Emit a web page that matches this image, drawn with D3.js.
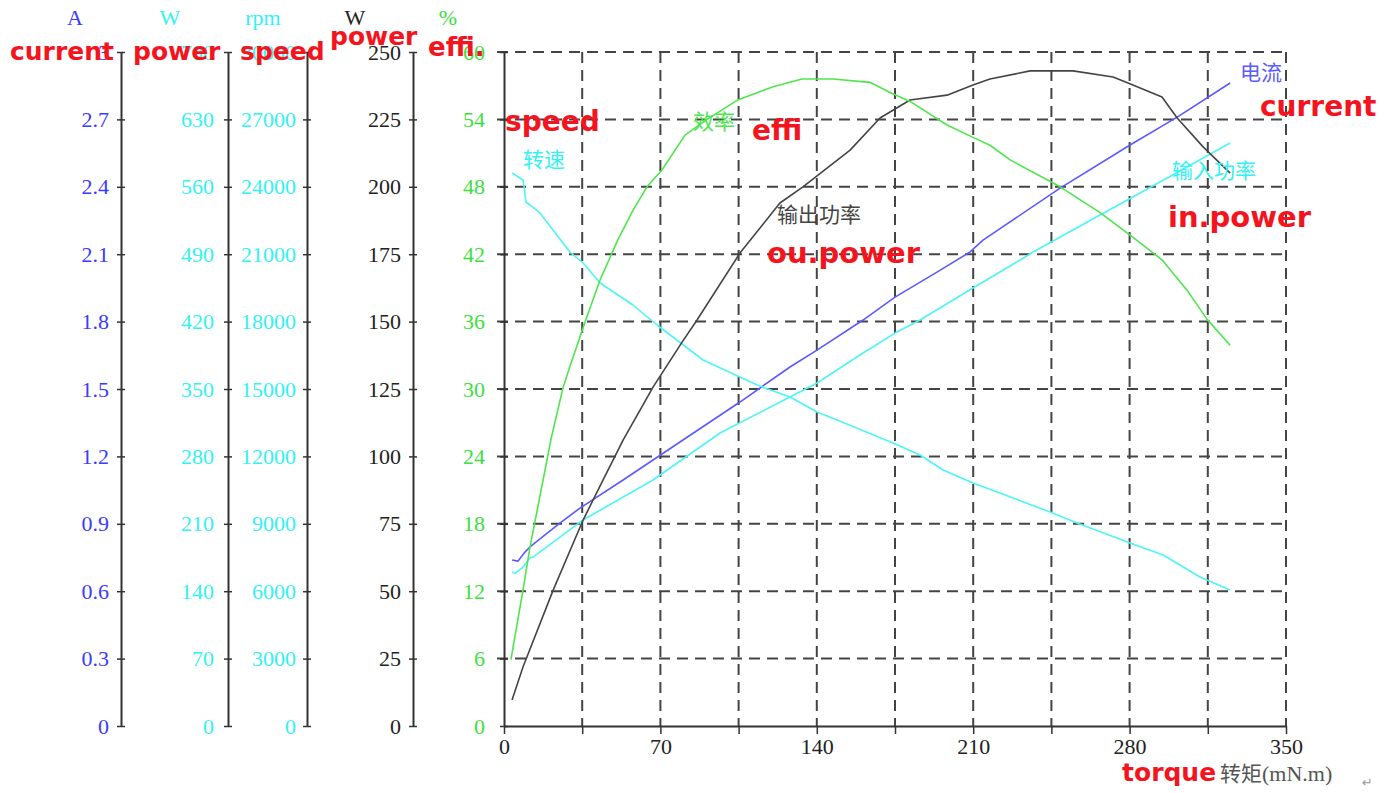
<!DOCTYPE html>
<html>
<head>
<meta charset="utf-8">
<script src="https://cdn.jsdelivr.net/npm/d3@7.9.0/dist/d3.min.js"></script>
<style>
  body { margin: 0; background: #fff; }
  svg { display: block; }
  .num { font-family: "Liberation Serif", "Times New Roman", serif; font-size: 22px; }
  .red { font-family: "DejaVu Sans", Verdana, sans-serif; font-weight: bold; fill: #f4141e; }
  .cjk { font-family: "Noto Sans CJK SC", sans-serif; font-size: 21px; }
</style>
</head>
<body>
<div id="chart"></div>
<script>
/* ── data: [torque mN.m, value] ── */
const currentPts = [[3.6,0.739],[6.3,0.734],[9.4,0.774],[11.6,0.797],[25,0.903],[34,0.970],
  [53.3,1.095],[80.1,1.273],[105.6,1.442],[128,1.598],[140.1,1.673],[160.7,1.807],[175,1.909],
  [193.8,2.02],[208.6,2.11],[214.4,2.163],[248.9,2.394],[280.2,2.586],[301.3,2.71],[325,2.862]];

const inPowerPts = [[3.6,160],[5,158.5],[8.5,165],[11.6,174.5],[13,175.5],[35.4,214],[66.7,255.5],
  [96.7,304.3],[128,341.7],[140.1,356.2],[160.7,387.4],[175,408.1],[186.2,421.6],[209.9,454.9],
  [231,484],[236.8,492.3],[266.8,530.7],[284.7,553.5],[296.8,569.1],[325,605.5]];

const speedPts = [[3.6,24614],[5,24525],[8.5,24302],[9,23991],[9.8,23323],[11.6,23190],[16.1,22835],
  [29.5,21097],[35.4,20608],[43,19718],[57.7,18739],[68.5,17849],[89.1,16291],[113.3,15178],
  [128,14644],[140.1,13976],[149.1,13620],[174.1,12596],[186.2,12062],[196.5,11395],[209.9,10816],
  [222,10371],[244.4,9525],[256.5,9036],[280.2,8145],[295,7611],[311.5,6632],[325,6053]];

const outPowerPts = [[3.6,9.6],[8.5,21.9],[22,50.4],[35.4,76.4],[44.3,91.2],[53.3,106],[66.7,125.7],
  [79.7,142.4],[86.4,150.6],[105.6,175.4],[123.5,194],[133.8,200],[154.9,213.6],[168.3,225.5],
  [181.7,232.2],[198.3,234],[209.9,237.8],[217.5,240],[235.5,243],[254.7,243],[272.6,240.7],
  [279.3,238.5],[294.5,233.3],[301.3,225.5],[312.9,214.8],[325,205.1]];

const effiPts = [[3.1,5.9],[8.5,12.1],[11.6,15.9],[17.5,21.9],[21,25.5],[26.4,30.1],[29.5,32],
  [36.7,36.2],[43,39.7],[51,43.3],[57.7,45.9],[64,48],[70.7,49.5],[81,52.6],[90.9,54],[104.3,55.7],
  [120.4,56.9],[133.4,57.6],[147.3,57.6],[163.8,57.3],[172.8,56.4],[181.7,55.6],[198.3,53.5],
  [209.9,52.4],[217.5,51.7],[226.5,50.4],[248.9,48],[266.8,45.7],[280.2,43.7],[294.5,41.5],
  [305.7,38.8],[314.7,36.2],[325,33.9]];

const torqueTicks = d3.range(0, 351, 35);
const torqueLabels = [0, 70, 140, 210, 280, 350];

/* left axes: unit, max, step, position, colour, padding */
const axesDef = [
  { key: 'current', unit: 'A',   max: 3,     step: 0.3,  x: 121, color: '#3b3bff', pad: 8,  fmt: d => d === 0 ? '0' : d3.format('.1~f')(d) },
  { key: 'inpow',   unit: 'W',   max: 700,   step: 70,   x: 228, color: '#33f2f2', pad: 10, fmt: d => d },
  { key: 'speed',   unit: 'rpm', max: 30000, step: 3000, x: 307, color: '#33f2f2', pad: 7,  fmt: d => d },
  { key: 'outpow',  unit: 'W',   max: 250,   step: 25,   x: 413, color: '#222',    pad: 8,  fmt: d => d },
  { key: 'effi',    unit: '%',   max: 60,    step: 6,    x: 504, color: '#3de03d', pad: 15, fmt: d => d }
];
const unitX = [75, 170, 263, 355, 448];

const width = 1399, height = 793;
const plot = { left: 504, right: 1286, top: 52, bottom: 726 };

const svg = d3.select('#chart').append('svg')
  .attr('width', width).attr('height', height);

const x = d3.scaleLinear().domain([0, 350]).range([plot.left, plot.right]);
const ys = {};
axesDef.forEach(a => {
  ys[a.key] = d3.scaleLinear().domain([0, a.max]).range([plot.bottom, plot.top]);
});

/* dashed grid */
const grid = svg.append('g')
  .attr('stroke', '#444').attr('stroke-width', 2).attr('stroke-dasharray', '11,7');
grid.selectAll('.hg')
  .data(d3.range(6, 61, 6))
  .join('line')
  .attr('x1', plot.left - 7).attr('x2', plot.right)
  .attr('y1', d => ys.effi(d)).attr('y2', d => ys.effi(d));
grid.selectAll('.vg')
  .data(torqueTicks.slice(1))
  .join('line')
  .attr('x1', d => x(d)).attr('x2', d => x(d))
  .attr('y1', plot.top).attr('y2', plot.bottom);

/* left axes */
axesDef.forEach((a, i) => {
  const ticks = d3.range(0, a.max + a.step / 2, a.step).map(v => +v.toFixed(2));
  const g = svg.append('g')
    .attr('transform', `translate(${a.x},0)`)
    .call(d3.axisLeft(ys[a.key]).tickValues(ticks).tickFormat(a.fmt)
      .tickSizeInner(4).tickSizeOuter(0).tickPadding(a.pad));
  g.select('.domain').attr('stroke', '#333').attr('stroke-width', 2);
  g.selectAll('.tick line').attr('stroke', '#333').attr('stroke-width', 1.5);
  g.selectAll('.tick').append('line')
    .attr('x2', 4).attr('stroke', '#333').attr('stroke-width', 1.5);
  g.selectAll('.tick text')
    .attr('class', 'num').attr('fill', a.color).attr('font-size', null).attr('font-family', null);
  g.attr('font-size', null).attr('font-family', null);

  svg.append('text').attr('class', 'num')
    .attr('x', unitX[i]).attr('y', 25).attr('text-anchor', 'middle')
    .attr('fill', a.color).text(a.unit);
});

/* bottom axis */
const xa = svg.append('g')
  .attr('transform', `translate(0,${plot.bottom})`)
  .call(d3.axisBottom(x).tickValues(torqueTicks)
    .tickFormat(d => torqueLabels.includes(d) ? d : '')
    .tickSizeInner(8).tickSizeOuter(0).tickPadding(4));
xa.attr('font-size', null).attr('font-family', null);
xa.select('.domain').attr('stroke', '#333').attr('stroke-width', 2);
xa.selectAll('.tick line').attr('stroke', '#333').attr('stroke-width', 1.5);
xa.selectAll('.tick text').attr('class', 'num').attr('fill', '#222');

/* curves */
const series = [
  { pts: currentPts,  y: ys.current, color: '#5a5aff' },
  { pts: inPowerPts,  y: ys.inpow,   color: '#4df5f5' },
  { pts: speedPts,    y: ys.speed,   color: '#4df5f5' },
  { pts: outPowerPts, y: ys.outpow,  color: '#444' },
  { pts: effiPts,     y: ys.effi,    color: '#4ee64e' }
];
series.forEach(s => {
  svg.append('path')
    .datum(s.pts)
    .attr('fill', 'none')
    .attr('stroke', s.color)
    .attr('stroke-width', 1.6)
    .attr('stroke-linejoin', 'round')
    .attr('d', d3.line().x(d => x(d[0])).y(d => s.y(d[1])));
});

/* chinese curve labels */
[
  ['电流', 1240, 80, '#5a5aff'],
  ['输入功率', 1172, 178, '#33f2f2'],
  ['输出功率', 777, 222, '#444'],
  ['效率', 693, 129, '#4ee64e'],
  ['转速', 523, 167, '#33f2f2']
].forEach(([t, tx, ty, c]) => {
  svg.append('text').attr('class', 'cjk')
    .attr('x', tx).attr('y', ty).attr('fill', c).text(t);
});

/* x axis title */
const xt = svg.append('text').attr('x', 1220).attr('y', 781).attr('fill', '#555');
xt.append('tspan').attr('class', 'cjk').attr('font-size', 20).text('转矩');
xt.append('tspan').attr('class', 'num').attr('font-size', 20).text('(mN.m)');
svg.append('text').attr('x', 1362).attr('y', 787).attr('fill', '#999')
  .attr('font-family', 'DejaVu Sans').attr('font-size', 13).text('↵');

/* red overlay annotations */
[
  ['current', 10, 60, 25],
  ['power', 133, 60, 25],
  ['speed', 240, 60, 25],
  ['power', 330, 45, 25],
  ['effi.', 428, 56, 26],
  ['speed', 505, 131, 28],
  ['effi', 752, 140, 28],
  ['ou.power', 767, 263, 29],
  ['current', 1260, 116, 28],
  ['in.power', 1168, 227, 29],
  ['torque', 1122, 781, 25]
].forEach(([t, tx, ty, fs]) => {
  svg.append('text').attr('class', 'red')
    .attr('x', tx).attr('y', ty).attr('font-size', fs).text(t);
});
</script>
</body>
</html>
